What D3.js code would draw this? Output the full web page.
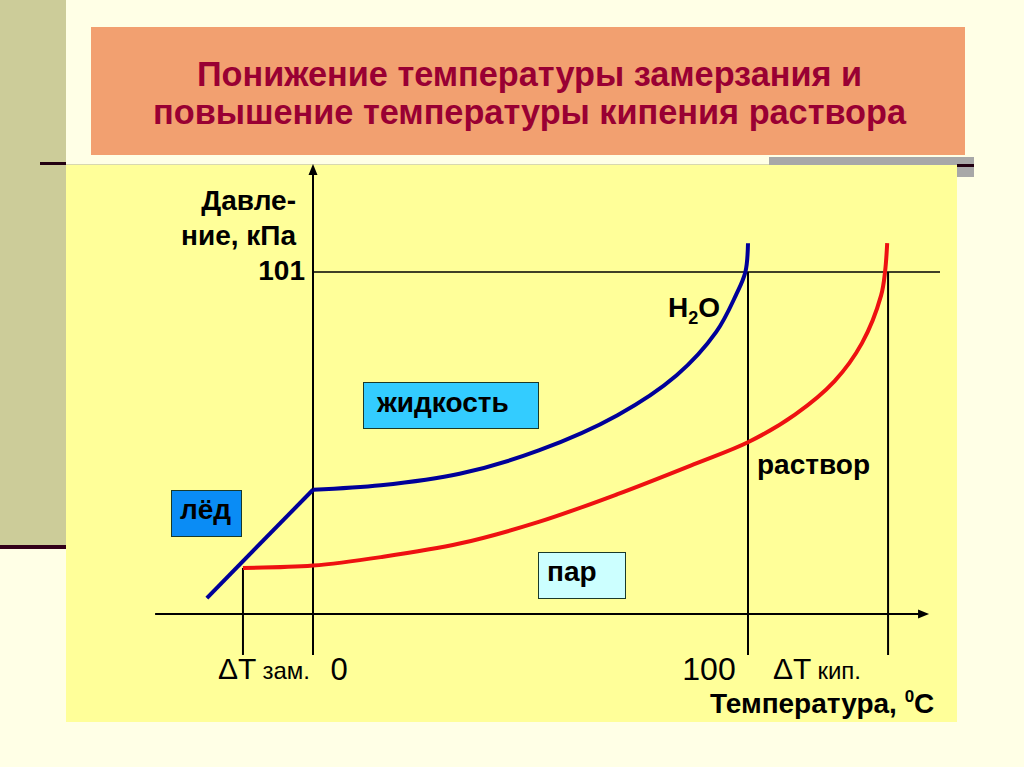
<!DOCTYPE html>
<html><head><meta charset="utf-8">
<script src="https://cdn.jsdelivr.net/npm/d3@7"></script>
<style>html,body{margin:0;padding:0;background:#FFFFE6;overflow:hidden}svg{display:block}</style>
</head><body>
<svg id="c" width="1024" height="767"></svg>
<script>
// ---- data (temperature °C, pressure kPa) ----
const titleLines = ["Понижение температуры замерзания и", "повышение температуры кипения раствора"];
const iceLine = [[-24.4, 4.7], [0, 36.7]];               // ice sublimation (linear)
const waterCurve = [[0, 36.7], [15.6, 38.0], [33.7, 41.4], [51.9, 48.3], [70.0, 58.7],
                    [83.6, 70.5], [92.7, 83.3], [97.2, 94.1], [99.4, 101], [100.0, 109.5]];
const solutionCurve = [[-16.1, 13.6], [0, 14.3], [15.6, 16.8], [33.7, 20.8], [51.9, 27.2],
                       [70.0, 35.4], [88.1, 44.5], [100.1, 50.8], [110.8, 58.9], [119.9, 68.8],
                       [126.2, 80.0], [130.6, 94.1], [131.5, 101], [132.0, 109.5]];
const refPressure = 101;
const freezeSolution = -16.1, boilWater = 100, boilSolution = 132.2;
const xTickLabels = ["0", "100"];
const xRange = [-36.3, 140.7], yRange = [-12.1, 131.7];

const svg = d3.select("#c");
const x = d3.scaleLinear().domain([0, 100]).range([313, 748]);
const y = d3.scaleLinear().domain([0, 101]).range([614, 272]);

// ---- decorations ----
svg.append("rect").attr("x",0).attr("y",0).attr("width",66).attr("height",547).attr("fill","#CCCC99");
svg.append("rect").attr("x",0).attr("y",545).attr("width",66).attr("height",4).attr("fill","#330019");
svg.append("rect").attr("x",66).attr("y",165).attr("width",891).attr("height",557).attr("fill","#FFFF99");
svg.append("line").attr("x1",66).attr("x2",770).attr("y1",164.5).attr("y2",164.5).attr("stroke","#D8D8B0").attr("stroke-width",1);
svg.append("rect").attr("x",40).attr("y",162).attr("width",26).attr("height",3).attr("fill","#220011");
svg.append("rect").attr("x",769).attr("y",157).attr("width",205).attr("height",8).attr("fill","#A8A8A8");
svg.append("rect").attr("x",957).attr("y",165).attr("width",17).attr("height",12).attr("fill","#A8A8A8");
svg.append("rect").attr("x",957).attr("y",164).attr("width",17).attr("height",3).attr("fill","#220011");
svg.append("rect").attr("x",91).attr("y",27).attr("width",874).attr("height",128).attr("fill","#F2A070");

const tl = svg.append("g").attr("font-family","'Liberation Sans Narrow','Arial Narrow','Liberation Sans',Arial,sans-serif")
  .attr("font-weight","bold").attr("font-size",35).attr("fill","#990033");
tl.append("text").attr("x",197).attr("y",86).attr("textLength",665).attr("lengthAdjust","spacingAndGlyphs").text(titleLines[0]);
tl.append("text").attr("x",153).attr("y",124).attr("textLength",753).attr("lengthAdjust","spacingAndGlyphs").text(titleLines[1]);

// ---- axes & reference lines ----
const g = svg.append("g");
const blk = "#000";
g.append("line").attr("x1",x(xRange[0])).attr("x2",x(xRange[1])).attr("y1",y(0)).attr("y2",y(0)).attr("stroke",blk).attr("stroke-width",2);
g.append("line").attr("x1",x(0)).attr("x2",x(0)).attr("y1",y(yRange[0])).attr("y2",y(yRange[1])).attr("stroke",blk).attr("stroke-width",2);
g.append("path").attr("d",`M${x(xRange[1])+4},${y(0)} l-11,-4.5 l0,9 z`).attr("fill",blk);
g.append("path").attr("d",`M${x(0)},${y(yRange[1])-4} l-4.5,11 l9,0 z`).attr("fill",blk);
g.append("line").attr("x1",x(0)).attr("x2",940).attr("y1",y(refPressure)).attr("y2",y(refPressure)).attr("stroke",blk).attr("stroke-width",1.5);
[[freezeSolution, solutionCurve[0][1]], [boilWater, refPressure], [boilSolution, refPressure]].forEach(([t,p]) => {
  g.append("line").attr("x1",x(t)).attr("x2",x(t)).attr("y1",y(p)).attr("y2",y(yRange[0])).attr("stroke",blk).attr("stroke-width",2);
});

// ---- curves ----
const lin = d3.line().x(d=>x(d[0])).y(d=>y(d[1]));
const smooth = d3.line().x(d=>x(d[0])).y(d=>y(d[1])).curve(d3.curveCatmullRom.alpha(0.5));
svg.append("path").attr("d",lin(iceLine)).attr("fill","none").attr("stroke","#000099").attr("stroke-width",4);
svg.append("path").attr("d",smooth(waterCurve)).attr("fill","none").attr("stroke","#000099").attr("stroke-width",4);
svg.append("path").attr("d",smooth(solutionCurve)).attr("fill","none").attr("stroke","#EE1111").attr("stroke-width",4);

// ---- region boxes ----
const font = "'Liberation Sans',Arial,sans-serif";
function box(x0,y0,w,h,fill,label,tx,ty){
  svg.append("rect").attr("x",x0).attr("y",y0).attr("width",w).attr("height",h).attr("fill",fill).attr("stroke","#1a3a2a").attr("stroke-width",1);
  svg.append("text").attr("x",tx).attr("y",ty).attr("font-family",font).attr("font-weight","bold").attr("font-size",28).attr("fill","#000").text(label);
}
box(363.5,382.5,175,46,"#33CCFF","жидкость",377,412);
box(171.5,490.5,70,46,"#0A8CF5","лёд",180,519);
box(538.5,552.5,87,46,"#CCFFFF","пар",547,581);

// ---- labels ----
const lb = svg.append("g").attr("font-family",font).attr("fill","#000");
lb.append("text").attr("x",296).attr("y",210).attr("text-anchor","end").attr("font-weight","bold").attr("font-size",28).text("Давле-");
lb.append("text").attr("x",296).attr("y",245).attr("text-anchor","end").attr("font-weight","bold").attr("font-size",28).text("ние, кПа");
lb.append("text").attr("x",305).attr("y",280).attr("text-anchor","end").attr("font-weight","bold").attr("font-size",28).text(String(refPressure));
const h2o = lb.append("text").attr("x",668).attr("y",317).attr("font-weight","bold").attr("font-size",28);
h2o.append("tspan").text("H");
h2o.append("tspan").attr("font-size",18).attr("dy",7).text("2");
h2o.append("tspan").attr("dy",-7).text("O");
lb.append("text").attr("x",757).attr("y",474).attr("font-weight","bold").attr("font-size",28).text("раствор");

const dz = lb.append("text").attr("x",218).attr("y",679);
dz.append("tspan").attr("font-size",30).text("ΔT");
dz.append("tspan").attr("font-size",24).attr("dx",6).text("зам.");
lb.append("text").attr("x",x(0)+26).attr("y",680).attr("text-anchor","middle").attr("font-size",31).text(xTickLabels[0]);
lb.append("text").attr("x",x(100)-39).attr("y",680).attr("text-anchor","middle").attr("font-size",32).text(xTickLabels[1]);
const dk = lb.append("text").attr("x",773).attr("y",679);
dk.append("tspan").attr("font-size",30).text("ΔT");
dk.append("tspan").attr("font-size",24).attr("dx",6).text("кип.");
const tt = lb.append("text").attr("x",710).attr("y",713).attr("font-weight","bold").attr("font-size",28);
tt.append("tspan").text("Температура, ");
tt.append("tspan").attr("font-size",17).attr("dy",-11).text("0");
tt.append("tspan").attr("dy",11).text("С");
</script>
</body></html>
